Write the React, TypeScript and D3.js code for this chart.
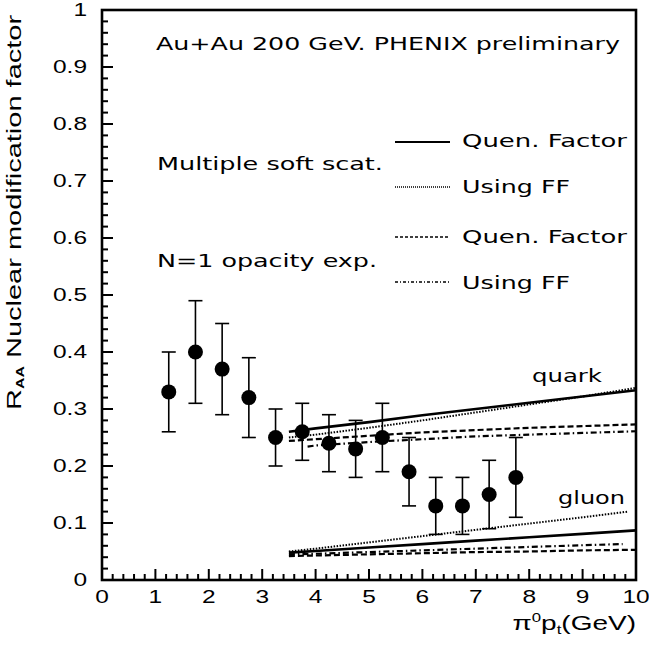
import React from 'react'
import * as d3 from 'd3'

// PHENIX pi0 R_AA data (pt bin centres, value, lower / upper error bar ends)
const ptBins = [1.25, 1.75, 2.25, 2.75, 3.25, 3.75, 4.25, 4.75, 5.25, 5.75, 6.25, 6.75, 7.25, 7.75]
const raa = [0.33, 0.40, 0.37, 0.32, 0.25, 0.26, 0.24, 0.23, 0.25, 0.19, 0.13, 0.13, 0.15, 0.18]
const raaLow = [0.26, 0.31, 0.29, 0.25, 0.20, 0.21, 0.19, 0.18, 0.19, 0.13, 0.08, 0.08, 0.09, 0.11]
const raaHigh = [0.40, 0.49, 0.45, 0.39, 0.30, 0.31, 0.29, 0.28, 0.31, 0.25, 0.18, 0.18, 0.21, 0.25]

// theory curves
const curveX = [3.5, 4, 5, 6, 7, 8, 9, 10]
const quarkSoftQF = [0.260, 0.266, 0.277, 0.289, 0.300, 0.311, 0.322, 0.333]
const quarkSoftFF = [0.250, 0.255, 0.267, 0.280, 0.294, 0.308, 0.322, 0.337]
const quarkOpacQF = [0.244, 0.247, 0.253, 0.259, 0.263, 0.267, 0.270, 0.273]
const quarkOpacFFX = [3.85, 4, 5, 6, 7, 8, 9, 10]
const quarkOpacFF = [0.234, 0.236, 0.242, 0.247, 0.252, 0.255, 0.258, 0.261]
const gluonSoftQF = [0.048, 0.051, 0.057, 0.063, 0.069, 0.075, 0.081, 0.087]
const gluonSoftFFX = [3.5, 4, 5, 6, 7, 8, 9, 9.85]
const gluonSoftFF = [0.050, 0.055, 0.066, 0.077, 0.088, 0.099, 0.110, 0.120]
const gluonOpacQF = [0.042, 0.043, 0.045, 0.047, 0.049, 0.050, 0.052, 0.053]
const gluonOpacFFX = [3.5, 4, 5, 6, 7, 8, 9, 9.75]
const gluonOpacFF = [0.045, 0.046, 0.049, 0.052, 0.055, 0.058, 0.061, 0.063]

const xTicks = d3.range(0, 11, 1)
const yTicks = d3.range(0, 1.001, 0.1)
const legendLabels = ['Quen. Factor', 'Using FF', 'Quen. Factor', 'Using FF']

const W = 649
const H = 645
const margin = { top: 10, right: 13, bottom: 65, left: 102 }

const styles = {
  solid: { width: 2.6, dash: undefined as string | undefined },
  dotted: { width: 2, dash: '1.5 1.5' },
  dashed: { width: 2.2, dash: '6 3' },
  dashdot: { width: 2.2, dash: '6 3 1.5 3' },
}

const roundFont = '"DejaVu Sans", sans-serif'
const axisFont = '"Liberation Sans", Arial, sans-serif'

const App: React.FC = () => {
  const x = d3.scaleLinear().domain([0, 10]).range([margin.left, W - margin.right])
  const y = d3.scaleLinear().domain([0, 1]).range([H - margin.bottom, margin.top])

  const line = d3.line<[number, number]>()
    .x(d => x(d[0]))
    .y(d => y(d[1]))

  const zipXY = (xs: number[], ys: number[]) => xs.map((v, i) => [v, ys[i]] as [number, number])

  const curves = [
    { xs: curveX, ys: quarkSoftQF, s: styles.solid },
    { xs: curveX, ys: quarkSoftFF, s: styles.dotted },
    { xs: curveX, ys: quarkOpacQF, s: styles.dashed },
    { xs: quarkOpacFFX, ys: quarkOpacFF, s: styles.dashdot },
    { xs: curveX, ys: gluonSoftQF, s: styles.solid },
    { xs: gluonSoftFFX, ys: gluonSoftFF, s: styles.dotted },
    { xs: curveX, ys: gluonOpacQF, s: styles.dashed },
    { xs: gluonOpacFFX, ys: gluonOpacFF, s: styles.dashdot },
  ]

  const x0 = x(0), x1 = x(10), y0 = y(0), y1 = y(1)
  const xMinor = d3.range(0, 10.001, 0.2)
  const yMinor = d3.range(0, 1.001, 0.02)

  // legend rows: line sample + text
  const legendRows = [
    { y: 142, base: 147, dash: undefined, w: 2 },
    { y: 187, base: 193, dash: '1 1', w: 1.5 },
    { y: 237, base: 243, dash: '3 2', w: 1.5 },
    { y: 282, base: 289, dash: '3 2 1 2', w: 1.5 },
  ]

  return (
    <svg width={W} height={H} style={{ position: 'absolute', left: 0, top: 0, background: '#fff' }}>
      {/* theory curves */}
      {curves.map((c, i) => (
        <path key={i} d={line(zipXY(c.xs, c.ys)) || ''} fill="none" stroke="#000"
          strokeWidth={c.s.width} strokeDasharray={c.s.dash} />
      ))}

      {/* data with error bars */}
      {ptBins.map((pt, i) => (
        <g key={i}>
          <line x1={x(pt)} x2={x(pt)} y1={y(raaLow[i])} y2={y(raaHigh[i])} stroke="#000" strokeWidth={1.6} />
          <line x1={x(pt) - 7} x2={x(pt) + 7} y1={y(raaLow[i])} y2={y(raaLow[i])} stroke="#000" strokeWidth={1.6} />
          <line x1={x(pt) - 7} x2={x(pt) + 7} y1={y(raaHigh[i])} y2={y(raaHigh[i])} stroke="#000" strokeWidth={1.6} />
          <circle cx={x(pt)} cy={y(raa[i])} r={7.5} fill="#000" />
        </g>
      ))}

      {/* frame */}
      <rect x={x0} y={y1} width={x1 - x0} height={y0 - y1} fill="none" stroke="#000" strokeWidth={2.6} />

      {/* ticks */}
      {xMinor.map((v, i) => {
        const major = Math.abs(v - Math.round(v)) < 1e-6
        return <line key={'xm' + i} x1={x(v)} x2={x(v)} y1={y0} y2={y0 - (major ? 11 : 6)} stroke="#000" strokeWidth={2} />
      })}
      {yMinor.map((v, i) => {
        const major = Math.abs(v * 10 - Math.round(v * 10)) < 1e-6
        return <line key={'ym' + i} x1={x0} x2={x0 + (major ? 11 : 6)} y1={y(v)} y2={y(v)} stroke="#000" strokeWidth={2} />
      })}

      {/* tick labels */}
      {xTicks.map(v => (
        <text key={'xl' + v} transform={`translate(${x(v)},${y0 + 23}) scale(1.4,1)`} textAnchor="middle"
          fontFamily={axisFont} fontSize={17.5}>{v}</text>
      ))}
      {yTicks.map(v => (
        <text key={'yl' + v} transform={`translate(${x0 - 15},${y(v) + 6}) scale(1.4,1)`} textAnchor="end"
          fontFamily={axisFont} fontSize={17.5}>{d3.format('.1~f')(v)}</text>
      ))}

      {/* axis titles */}
      <text transform={`translate(${x1},630) scale(1.4,1)`} textAnchor="end" fontFamily={axisFont} fontSize={20}>
        π<tspan dy={-8} fontSize={12}>0</tspan><tspan dy={8}>p</tspan><tspan dy={4} fontSize={12}>t</tspan><tspan dy={-4}>(GeV)</tspan>
      </text>
      <text transform={`translate(21,410) rotate(-90) scale(1.45,1)`} fontFamily={axisFont} fontSize={20}>
        R<tspan dy={3} fontSize={11} fontWeight="bold">AA</tspan><tspan dy={-3}> Nuclear modification factor</tspan>
      </text>

      {/* annotations */}
      <text x={156} y={50} fontFamily={roundFont} fontSize={17.5} textLength={464} lengthAdjust="spacingAndGlyphs">
        Au+Au 200 GeV. PHENIX preliminary
      </text>
      <text x={157} y={170} fontFamily={roundFont} fontSize={17.5} textLength={226} lengthAdjust="spacingAndGlyphs">
        Multiple soft scat.
      </text>
      <text x={157} y={267} fontFamily={roundFont} fontSize={17.5} textLength={220} lengthAdjust="spacingAndGlyphs">
        N=1 opacity exp.
      </text>
      {legendRows.map((r, i) => (
        <g key={'lg' + i}>
          <line x1={395} x2={450} y1={r.y} y2={r.y} stroke="#000" strokeWidth={r.w} strokeDasharray={r.dash} />
          <text x={462} y={r.base} fontFamily={roundFont} fontSize={17.5}
            textLength={legendLabels[i] === 'Using FF' ? 108 : 165} lengthAdjust="spacingAndGlyphs">
            {legendLabels[i]}
          </text>
        </g>
      ))}
      <text x={532} y={382} fontFamily={roundFont} fontSize={17.5} textLength={70} lengthAdjust="spacingAndGlyphs">quark</text>
      <text x={558} y={504} fontFamily={roundFont} fontSize={17.5} textLength={67} lengthAdjust="spacingAndGlyphs">gluon</text>
    </svg>
  )
}

export default App
